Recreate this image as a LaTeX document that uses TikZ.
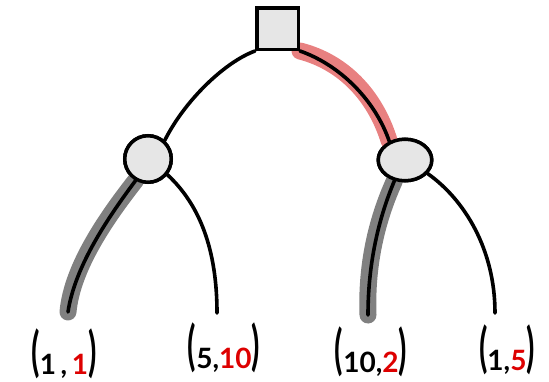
\documentclass[tikz,border=0pt]{standalone}
\usepackage{fontspec}
\setmainfont{Lato}
\usepackage{graphicx}
\usetikzlibrary{shapes.geometric}
\definecolor{nodegray}{HTML}{E6E6E6}
\definecolor{hlred}{HTML}{E88080}
\definecolor{hlgray}{HTML}{808080}
\definecolor{numred}{HTML}{DD0000}
\newcommand{\lpar}{\raisebox{4pt}{\scalebox{1.1}[1.9]{(}}}
\newcommand{\rpar}{\raisebox{4pt}{\scalebox{1.1}[1.9]{)}}}
\newcommand{\rednum}[1]{\textcolor{numred}{#1}}
\begin{document}
\begin{tikzpicture}[x=1pt,y=-1pt,
  edge/.style={line width=3.6pt,line cap=round},
  hilite/.style={line width=17pt,line cap=round},
  decisionbox/.style={draw,line width=3.5pt,fill=nodegray,rectangle,minimum size=41.5pt,inner sep=0pt},
  chancenode/.style={draw,line width=3.5pt,fill=nodegray,circle,minimum size=46.5pt,inner sep=0pt},
  chanceoval/.style={draw,line width=3.5pt,fill=nodegray,ellipse,minimum width=53.5pt,minimum height=41.5pt,inner sep=0pt},
  payoff/.style={font=\bfseries\fontsize{28}{30}\selectfont,inner sep=0pt}]
\useasboundingbox (0,0) rectangle (549,381);
% nodes (drawn first for anchors; redrawn on top at the end)
\node[decisionbox] (root) at (277.5,28.5) {};
\node[chancenode] (L) at (148,159) {};
\node[chanceoval] (R) at (405,160) {};
\node[payoff] (p1) at (64,354) {\lpar1\,,\,\rednum{1}\rpar};
\node[payoff] (p2) at (224,348) {\lpar5,\rednum{10}\rpar};
\node[payoff] (p3) at (371,352) {\lpar10,\rednum{2}\rpar};
\node[payoff] (p4) at (507,350) {\lpar1,\rednum{5}\rpar};
\coordinate (t1) at (68,312);
\coordinate (t2) at (217,313);
\coordinate (t3) at (368,315);
\coordinate (t4) at (495,313);
% highlights
\begin{scope}[shift={(3,-3)}]
\draw[hilite,hlred] (root.south east) .. controls (340,65) and (372,98) .. (R.130);
\end{scope}
\begin{scope}[shift={(-3,2)}]
\draw[hilite,hlgray] (L.240) .. controls (110,215) and (75,265) .. (t1);
\end{scope}
\begin{scope}[shift={(-2,2)}]
\draw[hilite,hlgray] (R.243) .. controls (380,215) and (368,260) .. (t3);
\end{scope}
% edges
\draw[edge] (root.south west) .. controls (225,62) and (185,100) .. (L.48);
\draw[edge] (root.south east) .. controls (340,65) and (375,100) .. (R.130);
\draw[edge] (L.240) .. controls (110,215) and (75,265) .. (t1);
\draw[edge] (L.321) .. controls (200,205) and (217,250) .. (t2);
\draw[edge] (R.243) .. controls (380,215) and (368,260) .. (t3);
\draw[edge] (R.329) .. controls (465,200) and (495,250) .. (t4);
% nodes on top
\node[decisionbox] at (root) {};
\node[chancenode] at (L) {};
\node[chanceoval] at (R) {};
\end{tikzpicture}
\end{document}
